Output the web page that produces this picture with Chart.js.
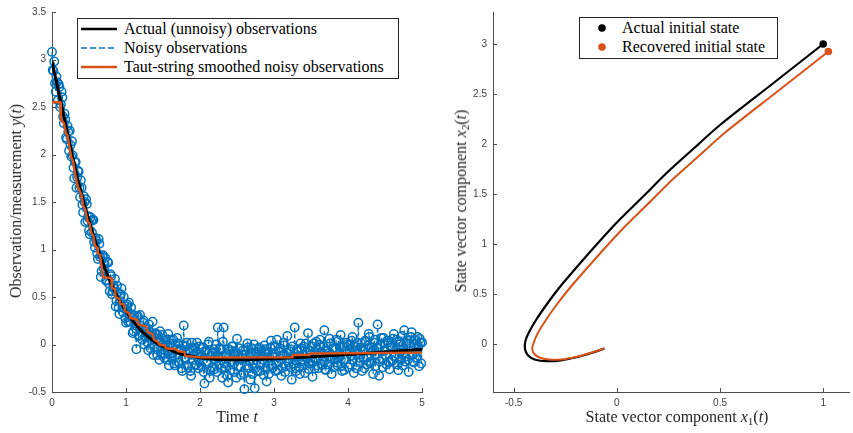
<!DOCTYPE html>
<html>
<head>
<meta charset="utf-8">
<script src="https://cdn.jsdelivr.net/npm/chart.js@4.4.1/dist/chart.umd.min.js"></script>
<style>
  body { margin: 0; background: #fff; width: 853px; height: 433px; overflow: hidden; position: relative;
         font-family: "Liberation Serif", "Times New Roman", serif; color: #262626; }
  canvas { position: absolute; top: 0; }
  #c1 { left: 0; }
  #c2 { left: 430px; }
  .title { position: absolute; font-size: 16px; white-space: nowrap; }
  .rot { transform: translate(-50%, -50%) rotate(-90deg); }
  .hor { transform: translate(-50%, -50%); }
  sub { font-size: 70%; vertical-align: -0.3em; line-height: 0; }
  .legend { position: absolute; border: 1px solid #262626; background: #fff; font-size: 16px; color: #000; box-sizing: border-box; }
  .row { position: absolute; left: 0; height: 18px; display: flex; align-items: center; white-space: nowrap; }
  .row svg { display: block; }
</style>
</head>
<body>
<canvas id="c1" width="430" height="433"></canvas>
<canvas id="c2" width="423" height="433"></canvas>

<div class="title rot" style="left:16px; top:201px;">Observation/measurement <i>y</i>(<i>t</i>)</div>
<div class="title hor" style="left:237px; top:417px;">Time <i>t</i></div>
<div class="title rot" style="left:461px; top:201px;">State vector component <i>x</i><sub>2</sub>(<i>t</i>)</div>
<div class="title hor" style="left:677px; top:417px;">State vector component <i>x</i><sub>1</sub>(<i>t</i>)</div>

<div class="legend" style="left:77px; top:18px; width:322px; height:61px;">
  <div class="row" style="top:1px;"><svg width="40" height="4" style="margin:0 3px 0 3px"><line x1="0" y1="2" x2="36" y2="2" stroke="#000" stroke-width="2.5"/></svg><span>Actual (unnoisy) observations</span></div>
  <div class="row" style="top:20px;"><svg width="40" height="4" style="margin:0 3px 0 3px"><line x1="0" y1="2" x2="36" y2="2" stroke="#0072BD" stroke-width="1.5" stroke-dasharray="6 3"/></svg><span>Noisy observations</span></div>
  <div class="row" style="top:39px;"><svg width="40" height="4" style="margin:0 3px 0 3px"><line x1="0" y1="2" x2="36" y2="2" stroke="#D95319" stroke-width="2.5"/></svg><span>Taut-string smoothed noisy observations</span></div>
</div>

<div class="legend" style="left:579px; top:17px; width:199px; height:42px;">
  <div class="row" style="top:1px;"><svg width="42" height="10"><circle cx="22" cy="5" r="3.8" fill="#000"/></svg><span>Actual initial state</span></div>
  <div class="row" style="top:20px;"><svg width="42" height="10"><circle cx="22" cy="5" r="3.8" fill="#D95319"/></svg><span>Recovered initial state</span></div>
</div>

<script>
// ---- left panel: observations over time (one noisy sample every 0.01) ----
const SAMPLE_STEP = 0.01;
const noisyY = [
  3.08, 2.89, 2.88, 2.98, 2.75, 2.66, 2.82, 2.76, 2.57, 2.74, 2.71, 2.50, 2.53, 2.66, 2.60, 2.40, 2.33, 2.43, 2.37, 2.18,
  2.16, 2.30, 2.24, 2.04, 2.25, 2.10, 1.98, 2.14, 1.99, 1.86, 1.75, 1.92, 1.92, 1.65, 1.76, 1.83, 1.82, 1.65, 1.55, 1.73,
  1.65, 1.47, 1.39, 1.56, 1.50, 1.29, 1.53, 1.48, 1.30, 1.35, 1.20, 1.16, 1.34, 1.30, 1.18, 1.31, 1.31, 1.08, 1.02, 1.12,
  1.09, 0.96, 0.90, 1.11, 1.06, 0.92, 0.71, 0.77, 0.93, 0.94, 0.80, 0.85, 0.91, 0.67, 0.68, 0.87, 0.86, 0.64, 0.56, 0.74,
  0.72, 0.53, 0.56, 0.62, 0.59, 0.69, 0.40, 0.46, 0.62, 0.55, 0.39, 0.32, 0.50, 0.53, 0.59, 0.39, 0.34, 0.50, 0.38, 0.28,
  0.23, 0.40, 0.42, 0.24, 0.44, 0.30, 0.24, 0.39, 0.32, 0.12, 0.14, 0.30, 0.25, 0.17, -0.05, 0.29, 0.30, 0.09, 0.10, 0.31,
  0.20, 0.12, 0.05, 0.23, 0.25, 0.00, 0.09, 0.16, 0.17, 0.02, -0.06, 0.21, 0.14, -0.04, 0.08, 0.09, 0.24, -0.11, -0.03, 0.11,
  0.12, -0.05, -0.11, 0.10, 0.04, -0.16, 0.14, 0.04, -0.10, 0.10, 0.00, -0.10, -0.14, -0.01, 0.05, -0.16, -0.08, 0.11, -0.22, -0.10,
  0.01, 0.05, -0.13, -0.09, 0.05, -0.20, -0.22, 0.00, -0.05, 0.07, 0.01, -0.19, -0.19, -0.06, -0.05, -0.25, -0.28, -0.01, 0.20, -0.14,
  -0.15, -0.02, 0.02, -0.22, -0.24, -0.08, -0.06, -0.28, -0.33, 0.02, -0.04, -0.16, -0.11, -0.03, -0.22, -0.21, 0.02, -0.13, -0.25, -0.02,
  -0.09, -0.12, -0.23, -0.03, -0.03, -0.29, -0.41, -0.08, -0.07, -0.20, -0.18, 0.00, 0.03, -0.35, -0.28, -0.12, -0.09, -0.24, -0.15, -0.05,
  -0.26, -0.08, 0.00, -0.29, 0.18, -0.14, -0.21, -0.04, -0.05, -0.25, -0.35, 0.03, 0.18, -0.20, -0.24, -0.10, -0.12, -0.33, -0.40, -0.05,
  -0.07, -0.27, -0.18, -0.02, -0.02, -0.21, -0.29, -0.07, -0.10, -0.35, 0.06, -0.13, -0.23, -0.04, -0.15, -0.24, -0.32, -0.11, -0.06, -0.30,
  -0.47, -0.06, -0.11, -0.22, 0.01, -0.03, -0.25, -0.18, -0.37, -0.09, -0.04, -0.31, -0.20, 0.00, -0.46, -0.25, -0.08, -0.13, -0.28, -0.05,
  -0.03, -0.28, -0.21, -0.07, -0.12, -0.16, -0.32, -0.01, -0.05, -0.25, -0.39, -0.10, -0.08, -0.31, -0.14, -0.03, 0.04, -0.22, -0.25, -0.13,
  -0.09, -0.02, -0.28, -0.20, 0.05, -0.27, -0.18, -0.07, -0.04, -0.12, -0.33, -0.24, -0.11, 0.02, -0.01, -0.29, -0.23, -0.09, 0.09, -0.17,
  -0.19, -0.07, -0.05, -0.24, -0.37, -0.02, -0.12, -0.20, 0.18, -0.25, -0.28, -0.05, -0.07, -0.13, -0.24, -0.31, 0.01, -0.04, -0.16, -0.18,
  -0.02, -0.21, -0.30, 0.01, -0.08, -0.15, 0.12, -0.26, -0.20, -0.07, -0.11, -0.02, -0.34, -0.18, 0.01, -0.25, -0.16, 0.03, -0.05, -0.22,
  -0.25, 0.00, 0.05, -0.20, -0.08, -0.09, -0.21, -0.02, 0.15, -0.26, -0.27, -0.07, -0.06, -0.21, -0.13, 0.06, 0.01, -0.15, -0.31, -0.05,
  -0.04, -0.24, -0.15, -0.05, 0.05, -0.19, -0.22, 0.04, -0.09, -0.13, 0.10, -0.23, -0.28, -0.02, -0.02, -0.27, -0.16, -0.07, 0.02, 0.00,
  -0.24, -0.01, -0.05, -0.21, -0.12, 0.04, 0.08, -0.16, -0.30, -0.07, -0.02, -0.25, -0.09, 0.02, 0.23, -0.14, -0.19, -0.03, 0.01, -0.28,
  -0.06, -0.14, -0.25, 0.04, 0.03, -0.21, -0.14, -0.01, 0.11, 0.08, -0.20, -0.18, -0.03, -0.07, -0.31, 0.02, 0.05, -0.23, -0.10, -0.04,
  0.21, -0.04, -0.33, -0.18, 0.00, 0.07, -0.15, -0.24, 0.07, 0.01, -0.06, -0.11, -0.21, 0.04, 0.02, -0.19, -0.26, -0.01, -0.03, -0.16,
  -0.17, 0.06, 0.11, -0.13, -0.12, -0.05, 0.05, -0.21, -0.27, 0.03, 0.00, -0.16, -0.06, 0.09, -0.22, -0.09, 0.15, -0.18, -0.13, 0.01,
  0.04, -0.16, -0.29, 0.01, -0.02, 0.08, 0.13, -0.11, -0.18, -0.19, 0.00, 0.05, -0.08, -0.14, 0.08, -0.03, -0.23, 0.06, 0.02, -0.20,
  0.02
];
const actualT = [0, 0.1, 0.2, 0.3, 0.4, 0.5, 0.6, 0.7, 0.8, 0.9, 1.0, 1.1, 1.2, 1.3, 1.4, 1.5,
                 1.6, 1.7, 1.8, 1.9, 2.0, 2.2, 2.4, 2.6, 2.8, 3.0, 3.5, 4.0, 4.5, 5.0];
const actualY = [2.98, 2.62, 2.26, 1.90, 1.58, 1.30, 1.05, 0.83, 0.64, 0.48, 0.35, 0.24, 0.15, 0.08, 0.02, -0.02,
                 -0.06, -0.09, -0.11, -0.125, -0.14, -0.155, -0.16, -0.16, -0.155, -0.15, -0.13, -0.105, -0.08, -0.052];
const smoothT = [0, 0.11, 0.12, 0.16, 0.19, 0.21, 0.26, 0.28, 0.33, 0.35, 0.40, 0.42, 0.45, 0.48, 0.51, 0.53,
                 0.56, 0.58, 0.61, 0.62, 0.65, 0.67, 0.69, 0.80, 0.81, 0.85, 0.86, 0.91, 0.92, 0.97, 0.99, 1.04,
                 1.06, 1.15, 1.17, 1.27, 1.29, 1.36, 1.38, 1.43, 1.45, 1.52, 1.54, 1.68, 1.70, 1.79, 1.80, 2.00,
                 3.25, 3.26, 3.48, 3.49, 5.00];
const smoothY = [2.55, 2.55, 2.37, 2.33, 2.22, 2.20, 1.97, 1.94, 1.72, 1.66, 1.57, 1.46, 1.42, 1.30, 1.27, 1.18,
                 1.14, 1.04, 1.02, 0.96, 0.94, 0.82, 0.71, 0.70, 0.60, 0.58, 0.50, 0.48, 0.43, 0.42, 0.35, 0.33,
                 0.28, 0.26, 0.21, 0.19, 0.13, 0.11, 0.05, 0.03, 0.00, -0.01, -0.04, -0.05, -0.07, -0.08, -0.12, -0.135,
                 -0.135, -0.11, -0.11, -0.095, -0.085];
const leftXTicks = [0, 1, 2, 3, 4, 5];
const leftYTicks = [-0.5, 0, 0.5, 1, 1.5, 2, 2.5, 3, 3.5];

// ---- right panel: state trajectories ----
const actualX1 = [1.0, 0.75, 0.5, 0.375, 0.25, 0.125, 0.0, -0.1, -0.2, -0.28, -0.34, -0.39, -0.425, -0.443,
                  -0.445, -0.43, -0.395, -0.34, -0.27, -0.19, -0.12, -0.06];
const actualX2 = [3.0, 2.595, 2.19, 1.96, 1.727, 1.47, 1.215, 0.99, 0.755, 0.56, 0.395, 0.245, 0.12, 0.03,
                  -0.05, -0.115, -0.157, -0.172, -0.163, -0.13, -0.088, -0.045];
const recovX1 = [1.025, 0.775, 0.525, 0.4, 0.275, 0.15, 0.025, -0.075, -0.165, -0.24, -0.3, -0.35, -0.385,
                 -0.405, -0.41, -0.4, -0.375, -0.33, -0.27, -0.2, -0.13, -0.06];
const recovX2 = [2.925, 2.52, 2.115, 1.885, 1.655, 1.4, 1.145, 0.92, 0.71, 0.53, 0.37, 0.22, 0.1,
                 0.0, -0.05, -0.1, -0.135, -0.155, -0.155, -0.13, -0.09, -0.045];
const rightXTicks = [-0.5, 0, 0.5, 1];
const rightYTicks = [0, 0.5, 1, 1.5, 2, 2.5, 3];

const BLUE = '#0072BD', ORANGE = '#D95319', AXIS = '#4d4d4d';

function pts(xs, ys) { return xs.map((x, i) => ({ x: x, y: ys[i] })); }

function axis(min, max, tickVals, size, isY) {
  return {
    type: 'linear', min: min, max: max,
    grid: { display: false, drawTicks: false },
    border: { display: true, color: AXIS, width: 1 },
    ticks: {
      color: '#404040', padding: isY ? 6 : 5, autoSkip: false, maxRotation: 0,
      font: { family: '"Liberation Sans", Arial, sans-serif', size: 10 },
      callback: v => String(v)
    },
    afterBuildTicks: s => { s.ticks = tickVals.map(v => ({ value: v })); },
    afterFit: s => { if (isY) s.width = size; else s.height = size; }
  };
}

// matlab style ticks pointing into the plot area
const inwardTicks = {
  id: 'inwardTicks',
  afterDraw(chart) {
    const { ctx, chartArea: a } = chart;
    const xs = chart.scales.x, ys = chart.scales.y;
    ctx.save();
    ctx.strokeStyle = AXIS;
    ctx.lineWidth = 1;
    xs.ticks.forEach(t => {
      const px = Math.round(xs.getPixelForValue(t.value)) + 0.5;
      ctx.beginPath(); ctx.moveTo(px, a.bottom); ctx.lineTo(px, a.bottom - 4); ctx.stroke();
    });
    ys.ticks.forEach(t => {
      const py = Math.round(ys.getPixelForValue(t.value)) + 0.5;
      ctx.beginPath(); ctx.moveTo(a.left, py); ctx.lineTo(a.left + 4, py); ctx.stroke();
    });
    ctx.restore();
  }
};

const common = {
  responsive: false, animation: false, devicePixelRatio: 1,
  plugins: { legend: { display: false }, tooltip: { enabled: false } },
  events: []
};

new Chart(document.getElementById('c1'), {
  type: 'scatter',
  data: {
    datasets: [
      { label: 'Taut-string smoothed noisy observations', data: pts(smoothT, smoothY), showLine: true,
        borderColor: ORANGE, borderWidth: 2.4, pointRadius: 0, order: 1 },
      { label: 'Actual (unnoisy) observations', data: pts(actualT, actualY), showLine: true,
        borderColor: '#000', borderWidth: 3, pointRadius: 0, cubicInterpolationMode: 'monotone', order: 2 },
      { label: 'Noisy observations', data: noisyY.map((v, i) => ({ x: i * SAMPLE_STEP, y: v })), showLine: true,
        borderColor: BLUE, borderWidth: 1.2, borderDash: [4, 2], pointRadius: 4.2, pointBorderWidth: 1.5,
        pointBorderColor: BLUE, pointBackgroundColor: 'rgba(0,0,0,0)', clip: 6, order: 3 }
    ]
  },
  options: Object.assign({}, common, {
    layout: { padding: { top: 10, right: 8, left: 0, bottom: 0 } },
    scales: { x: axis(0, 5, leftXTicks, 41, false), y: axis(-0.5, 3.5, leftYTicks, 52, true) }
  }),
  plugins: [inwardTicks]
});

new Chart(document.getElementById('c2'), {
  type: 'scatter',
  data: {
    datasets: [
      { label: 'Actual initial state', data: [{ x: actualX1[0], y: actualX2[0] }], pointRadius: 3.8,
        pointBackgroundColor: '#000', pointBorderWidth: 0, clip: 6, order: 1 },
      { label: 'Recovered initial state', data: [{ x: recovX1[0], y: recovX2[0] }], pointRadius: 3.8,
        pointBackgroundColor: ORANGE, pointBorderWidth: 0, clip: 6, order: 1 },
      { label: 'Recovered trajectory', data: pts(recovX1, recovX2), showLine: true, tension: 0.3,
        borderColor: ORANGE, borderWidth: 2, pointRadius: 0, order: 2 },
      { label: 'Actual trajectory', data: pts(actualX1, actualX2), showLine: true, tension: 0.3,
        borderColor: '#000', borderWidth: 2.2, pointRadius: 0, order: 3 }
    ]
  },
  options: Object.assign({}, common, {
    layout: { padding: { top: 10, right: 0, left: 0, bottom: 0 } },
    scales: { x: axis(-0.6, 1.125, rightXTicks, 41, false), y: axis(-0.48, 3.32, rightYTicks, 63, true) }
  }),
  plugins: [inwardTicks]
});
</script>
</body>
</html>
